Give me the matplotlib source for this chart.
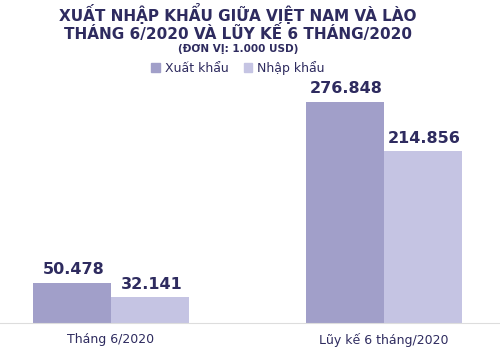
import numpy as np
import matplotlib.pyplot as plt
from matplotlib.patches import Patch

categories = ["Tháng 6/2020", "Lũy kế 6 tháng/2020"]
xuat_khau = [50.478, 276.848]
nhap_khau = [32.141, 214.856]
series_names = ["Xuất khẩu", "Nhập khẩu"]

c_xk = "#a19fc9"
c_nk = "#c5c4e3"
navy = "#2e2b5f"

plt.rcParams['font.family'] = ['DejaVu Sans']

fig = plt.figure(figsize=(5, 3.55), dpi=100)
ax = fig.add_axes([0, 32 / 355, 1, (323 - 71) / 355])

x = np.arange(len(categories))
w = 0.286
b1 = ax.bar(x - w / 2, xuat_khau, w, color=c_xk)
b2 = ax.bar(x + w / 2, nhap_khau, w, color=c_nk)

ax.set_xlim(-111 / 273, 389 / 273)
ax.set_ylim(0, 276.848 * (323 - 71) / 221)

for bars, vals in ((b1, xuat_khau), (b2, nhap_khau)):
    for r, v in zip(bars, vals):
        ax.annotate(f"{v:.3f}", (r.get_x() + r.get_width() / 2, v), xytext=(1, 4),
                    textcoords='offset points', ha='center', va='bottom',
                    fontsize=11.5, fontweight='bold', color=navy)

for s in ['top', 'right', 'left']:
    ax.spines[s].set_visible(False)
ax.spines['bottom'].set_color('#dddddd')
ax.set_yticks([])
ax.set_xticks(x)
ax.set_xticklabels(categories, fontsize=9, color=navy)
ax.tick_params(axis='x', length=0, pad=7)

fig.text(0.476, 0.962, "XUẤT NHẬP KHẨU GIỮA VIỆT NAM VÀ LÀO", ha='center', va='center',
         fontsize=11, fontweight='bold', color=navy)
fig.text(0.476, 0.907, "THÁNG 6/2020 VÀ LŨY KẾ 6 THÁNG/2020", ha='center', va='center',
         fontsize=11, fontweight='bold', color=navy)
fig.text(0.476, 0.862, "(ĐƠN VỊ: 1.000 USD)", ha='center', va='center',
         fontsize=7.5, fontweight='bold', color=navy)

handles = [Patch(color=c_xk), Patch(color=c_nk)]
fig.legend(handles, series_names, loc='center', bbox_to_anchor=(0.476, 0.808), ncol=2,
           frameon=False, fontsize=9, labelcolor=navy, handlelength=0.7, handleheight=0.7,
           handletextpad=0.4, columnspacing=1.2)

fig.savefig("out.png", dpi=100)
